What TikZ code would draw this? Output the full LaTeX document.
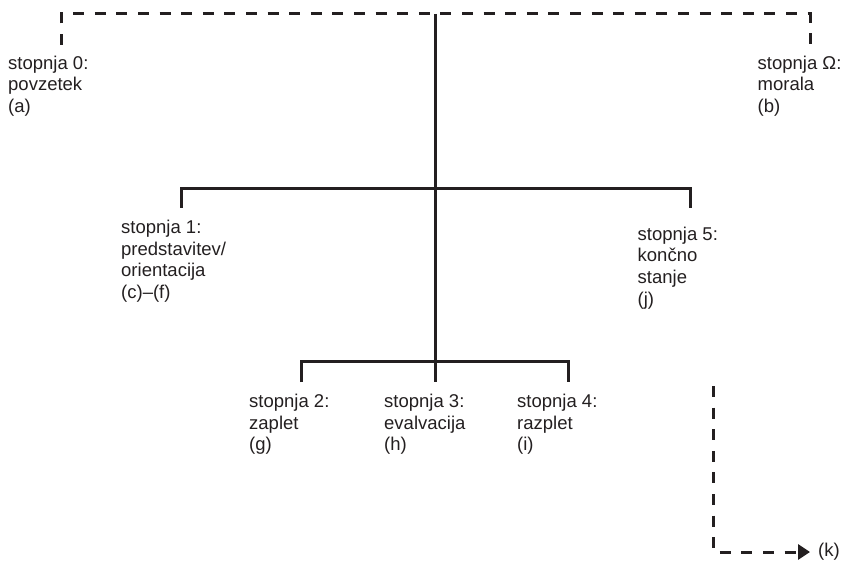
\documentclass[tikz,border=0pt]{standalone}
\usepackage{fontspec}
\setmainfont{Liberation Sans}
\usetikzlibrary{arrows.meta}
\definecolor{ink}{HTML}{231F20}
\begin{document}
\begin{tikzpicture}[x=1bp,y=-1bp,
  lbl/.style={anchor=north west, inner sep=0pt, align=left, text=ink,
    font=\fontsize{18.5bp}{21.6bp}\selectfont},
  solidline/.style={draw=ink, line width=3bp},
  dashline/.style={draw=ink, line width=3bp, dash pattern=on 11bp off 10.6bp}]
\useasboundingbox (0,0) rectangle (855,563);
% text blocks
\node[lbl] (s0) at (8,53.9) {\strut stopnja 0:\\povzetek\\(a)};
\node[lbl] (sO) at (757.5,53.9) {\strut stopnja \symbol{"03A9}:\\morala\\(b)};
\node[lbl] (s1) at (121,218.2) {\strut stopnja 1:\\predstavitev/\\orientacija\\(c)--(f)};
\node[lbl] (s5) at (637.5,224.9) {\strut stopnja 5:\\kon\v{c}no\\stanje\\(j)};
\node[lbl] (s2) at (249,392.4) {\strut stopnja 2:\\zaplet\\(g)};
\node[lbl] (s3) at (384,392.4) {\strut stopnja 3:\\evalvacija\\(h)};
\node[lbl] (s4) at (517,392.4) {\strut stopnja 4:\\razplet\\(i)};
\node[lbl, anchor=base west] (sk) at (818,556.5) {(k)};
% coordinates
\coordinate (a0) at (61,45);
\coordinate (tl) at (61,14);
\coordinate (tr) at (810,14);
\coordinate (b0) at (810,45);
\coordinate (trunkTop) at (435.5,14);
\coordinate (trunkBot) at (435.5,382);
\coordinate (u1b) at (181,208);
\coordinate (u1t) at (181,189);
\coordinate (u5t) at (690,189);
\coordinate (u5b) at (690,208);
\coordinate (l2b) at (301,382);
\coordinate (l2t) at (301,361);
\coordinate (l4t) at (568,361);
\coordinate (l4b) at (568,382);
\coordinate (k0) at (713,386);
\coordinate (kc) at (713,552);
\coordinate (kt) at (810,552);
% dashed frame at top
\draw[dashline] (a0) -- (tl) -- (tr) -- (b0);
% solid tree
\draw[solidline] (trunkTop) -- (trunkBot);
\draw[solidline] (u1b) -- (u1t) -- (u5t) -- (u5b);
\draw[solidline] (l2b) -- (l2t) -- (l4t) -- (l4b);
% dashed arrow to (k)
\draw[dashline, -{Triangle[length=12bp,width=15bp]}] (k0) -- (kc) -- (kt);
\end{tikzpicture}
\end{document}
